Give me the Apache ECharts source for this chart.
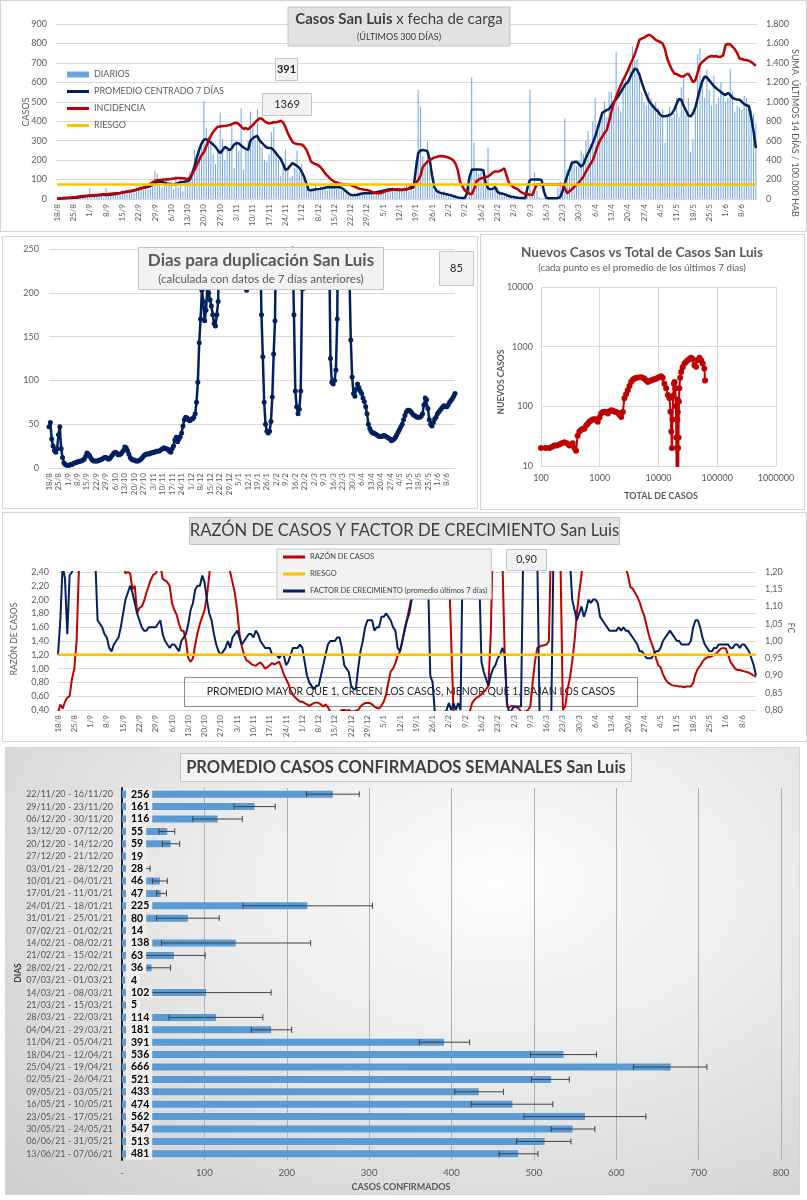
<!DOCTYPE html>
<html><head><meta charset="utf-8">
<script src="https://cdn.jsdelivr.net/npm/echarts@6/dist/echarts.min.js"></script>
<style>
html,body{margin:0;padding:0;background:#fff;width:807px;height:1200px;overflow:hidden;}
.p{position:absolute;outline:1px solid #d4d4d4;outline-offset:-1px;}
#c1{left:0;top:0;width:807px;height:232px;}
#c2{left:2px;top:236px;width:476px;height:273px;}
#c4{left:480px;top:234px;width:325px;height:276px;}
#c3{left:2px;top:512px;width:805px;height:230px;}
#c5{left:5px;top:747px;width:795px;height:448px;background:radial-gradient(ellipse at 62% 30%, #fdfdfd 0%, #ececec 40%, #cdcdcd 100%);}
</style></head><body>
<div id="c1" class="p"></div>
<div id="c2" class="p"></div>
<div id="c4" class="p"></div>
<div id="c3" class="p"></div>
<div id="c5" class="p"></div>
<script>
// ---------------- DATA ----------------
// daily series: 18/8/2020 .. 14/6/2021 (301 days), one row per week
var dailyCases = [
0,5,2,8,3,0,4,
5,10,7,15,12,20,16,
55,10,15,25,20,18,5,
55,20,15,25,30,35,20,
45,40,35,50,40,45,60,
55,65,50,70,60,85,90,
145,130,70,60,85,100,80,
90,50,120,60,110,40,100,
110,140,150,255,200,250,300,
505,365,320,300,230,180,250,
445,310,200,260,240,380,160,
300,245,465,150,250,300,450,
380,300,460,300,270,200,190,
230,345,370,250,200,120,180,
255,150,110,120,160,250,140,
180,110,60,40,50,45,80,
40,70,50,60,45,65,60,
70,50,60,45,40,30,25,
20,15,25,30,20,35,25,
30,40,20,35,30,45,35,
50,45,55,40,60,50,40,
55,45,60,70,40,50,45,
200,560,475,220,180,295,150,
80,40,30,50,25,40,20,
25,15,10,20,5,10,5,
0,5,60,625,290,150,130,
140,120,60,262,40,50,80,
60,40,30,20,30,25,15,
20,10,5,5,10,5,20,
560,20,135,40,10,5,5,
5,0,5,10,5,60,90,
80,415,150,130,200,180,170,
200,250,230,300,350,280,400,
520,350,400,450,500,420,550,
550,500,755,480,450,600,650,
600,700,785,715,720,640,550,
500,480,550,520,480,500,470,
420,460,290,430,475,420,440,
520,420,575,625,430,520,240,
310,480,745,775,600,520,665,
560,480,635,490,520,600,530,
500,520,670,550,450,480,470,
460,530,520,480,460,440,391];

var avg7 = [
2,3,3,4,4,5,5,
6,7,8,10,12,14,15,
16,17,18,19,19,20,20,
21,22,22,24,26,28,30,
33,36,38,40,42,45,48,
52,56,58,60,63,68,74,
82,88,90,88,84,80,78,
76,75,78,82,86,88,90,
92,100,130,170,215,255,285,
305,308,300,290,280,268,250,
236,250,268,262,250,262,280,
288,285,275,265,258,252,300,
312,320,324,300,288,275,265,
262,262,250,235,220,205,180,
150,155,170,185,178,170,160,
140,116,80,46,45,48,50,
50,52,55,58,60,60,62,
60,62,60,58,50,40,30,
22,20,20,22,26,28,30,
30,30,30,32,35,38,40,
42,45,48,50,50,48,46,
46,46,48,50,52,55,60,
150,235,250,252,250,245,200,
120,60,40,34,30,28,25,
22,20,15,12,8,6,5,
5,30,110,150,152,152,152,
150,148,80,55,50,52,62,
38,30,28,25,20,15,12,
10,8,6,5,5,4,60,
98,100,100,100,100,98,40,
6,4,4,4,4,5,10,
40,80,120,150,185,190,192,
180,166,180,210,236,260,290,
320,360,400,442,450,458,462,
480,500,513,530,550,570,590,
600,625,650,670,665,640,600,
565,535,505,490,475,460,450,
432,425,425,428,432,440,460,
490,515,510,480,455,430,425,
440,470,518,565,605,630,625,
610,595,580,570,560,550,540,
535,545,535,520,515,512,510,
500,488,482,478,420,350,262];

var incidence = [
5,6,8,10,12,14,16,
18,20,24,28,30,32,34,
36,38,40,42,44,46,48,
50,52,54,56,58,60,62,
66,70,74,78,82,88,94,
100,108,116,126,140,156,172,
186,192,196,198,200,200,202,
206,210,214,216,216,214,212,
200,225,260,300,350,400,450,
480,540,600,650,690,720,744,
745,750,752,755,760,770,780,
785,770,745,720,730,715,740,
760,790,810,830,825,800,785,
780,782,790,790,795,805,790,
740,680,630,590,572,565,562,
560,540,508,450,384,370,358,
350,330,300,266,240,215,195,
178,170,160,155,150,148,146,
144,135,125,112,104,100,95,
92,85,75,65,60,58,62,
72,80,86,90,95,98,100,
98,95,96,100,110,130,150,
168,190,240,330,360,385,400,
415,425,434,440,442,440,432,
426,415,400,366,300,178,130,
90,70,55,48,100,180,200,
212,218,225,232,250,270,284,
284,286,300,316,240,162,140,
120,110,95,75,60,52,48,
44,42,100,148,150,150,150,
150,150,150,150,150,150,150,
150,110,60,80,100,125,144,
170,200,232,280,320,360,400,
470,540,600,640,680,710,800,
900,984,1050,1110,1170,1224,1270,
1320,1380,1430,1490,1560,1636,1650,
1660,1675,1690,1680,1660,1636,1625,
1615,1600,1540,1440,1380,1330,1290,
1285,1270,1260,1260,1280,1290,1250,
1200,1220,1300,1380,1410,1430,1450,
1464,1470,1465,1470,1460,1464,1480,
1584,1595,1590,1566,1540,1500,1446,
1440,1430,1430,1420,1410,1390,1369];

var riesgoIncidencia = 150;

var diasDuplicacion = [
47,52,33,25,20,18,22,
38,47,22,12,6,4,3,
3,3,4,4,5,6,6,
7,7,8,8,9,10,13,
17,16,14,11,9,8,8,
8,8,9,9,10,11,12,
12,11,10,11,13,15,17,
18,17,15,15,16,18,20,
24,23,20,16,12,10,9,
9,8,8,8,9,10,12,
14,15,16,16,16,17,17,
18,18,19,19,19,20,21,
22,23,22,22,21,19,18,
22,25,32,35,30,33,36,
40,48,55,58,57,55,54,
56,56,58,62,75,98,143,
170,203,190,168,180,205,200,
192,185,175,165,162,175,190,
320,600,800,900,1100,1300,1500,
1800,2000,2500,3000,2500,2000,1500,
1200,900,700,500,400,300,203,
300,500,800,1000,900,700,500,
600,400,260,175,127,75,50,
42,40,42,53,81,130,168,
300,600,1000,1500,2000,1800,1200,
800,600,500,400,300,250,175,
88,70,62,67,88,205,205,
400,900,1200,1500,1300,1000,900,
800,700,600,500,450,400,350,
400,350,300,280,260,125,98,
96,100,112,170,400,900,700,
500,400,350,300,260,220,146,
104,85,82,90,96,92,88,
85,80,76,70,62,50,45,
42,40,40,39,38,37,36,
36,36,37,37,36,35,34,
33,31,32,33,35,38,41,
44,47,50,55,60,64,66,
66,65,63,61,60,59,58,
58,58,59,62,72,80,78,
68,55,50,48,52,56,58,
62,64,66,68,70,71,70,
70,72,75,77,79,82,85];

var razonCasos = [
0.36,0.48,0.42,0.52,0.58,0.60,0.85,
1.00,1.40,2.45,3.00,3.50,3.80,4.00,
4.00,3.80,3.60,3.40,3.20,3.00,2.90,
2.80,2.80,2.70,2.70,2.60,2.60,2.50,
2.50,2.38,2.40,2.38,2.15,2.20,1.80,
1.88,1.90,1.98,2.10,2.20,2.30,2.36,
2.38,2.45,2.50,2.30,2.28,2.25,2.20,
1.95,1.85,1.78,1.65,1.55,1.55,1.40,
1.15,1.10,1.15,1.35,1.52,1.65,1.75,
1.85,2.05,2.35,2.70,2.90,3.00,3.10,
3.10,3.00,2.90,2.60,2.40,2.25,2.10,
1.85,1.50,1.32,1.20,1.12,1.10,1.07,
1.05,1.04,1.07,1.09,1.05,1.00,1.02,
1.05,1.08,1.06,1.08,1.10,1.02,0.92,
0.85,0.78,0.68,0.62,0.58,0.55,0.52,
0.52,0.50,0.48,0.46,0.48,0.50,0.51,
0.50,0.48,0.45,0.48,0.44,0.38,0.35,
0.36,0.35,0.37,0.40,0.40,0.39,0.40,
0.38,0.38,0.39,0.40,0.45,0.48,0.50,
0.50,0.50,0.48,0.45,0.43,0.42,0.46,
0.52,0.62,0.80,0.96,1.00,1.08,1.18,
1.25,1.40,1.58,1.72,1.88,2.05,2.25,
2.60,3.00,3.40,3.80,4.20,4.40,4.50,
4.50,4.40,4.20,4.00,3.60,3.20,2.80,
2.50,1.40,0.35,0.30,0.28,0.25,0.25,
0.25,0.30,0.38,0.50,0.55,0.58,0.60,
0.63,0.66,0.70,0.75,1.50,3.00,4.00,
4.50,4.00,2.60,1.20,0.45,0.44,0.46,
0.45,0.44,0.42,0.38,0.36,0.38,0.40,
0.45,0.80,1.10,1.30,1.32,1.33,1.34,
1.35,1.40,3.00,4.00,4.50,4.00,2.50,
0.40,0.45,0.70,0.86,1.10,1.40,1.80,
2.10,2.35,2.80,3.20,3.50,3.60,3.70,
3.80,3.90,4.00,4.00,3.90,3.80,3.60,
3.40,3.20,3.00,2.90,2.80,2.60,2.45,
2.35,2.18,2.16,2.10,2.04,1.96,1.85,
1.76,1.62,1.48,1.38,1.28,1.15,1.05,
1.02,0.92,0.85,0.80,0.78,0.76,0.75,
0.75,0.74,0.74,0.73,0.74,0.74,0.74,
0.79,0.92,1.00,1.04,1.10,1.14,1.16,
1.17,1.18,1.20,1.22,1.26,1.29,1.30,
1.29,1.20,1.10,1.05,1.00,0.98,0.98,
0.97,0.96,0.95,0.94,0.92,0.90,0.88];

var factorCrecimiento = [
0.96,1.06,1.22,1.18,1.02,1.19,1.20,
1.25,1.30,1.35,1.40,1.40,1.38,1.35,
1.30,1.26,1.24,1.06,1.05,1.04,1.02,
1.01,0.98,0.97,0.99,1.00,1.01,1.04,
1.08,1.12,1.14,1.16,1.14,1.11,1.08,
1.06,1.04,1.03,1.03,1.04,1.04,1.04,
1.04,1.05,1.06,1.02,1.00,0.99,0.98,
0.99,0.99,0.98,0.97,1.00,1.01,1.02,
1.05,1.09,1.11,1.15,1.16,1.16,1.19,
1.17,1.12,1.08,1.06,1.02,0.99,0.97,
0.96,0.97,0.98,1.00,0.98,1.01,1.02,
1.03,1.01,0.99,1.00,1.01,1.02,1.02,
1.01,1.03,1.02,1.00,0.99,0.98,0.98,
0.98,0.96,0.96,0.96,0.95,0.96,0.96,
0.93,0.94,0.96,0.98,0.98,0.98,0.99,
0.98,0.94,0.90,0.88,0.87,0.86,0.87,
0.87,0.90,0.93,0.96,0.99,1.00,1.00,
1.00,1.01,1.01,0.98,0.93,0.92,0.91,
0.87,0.86,0.86,0.92,0.97,1.00,1.04,
1.06,1.06,1.06,1.03,1.04,1.04,1.07,
1.07,1.08,1.07,1.06,1.04,1.03,0.98,
0.97,1.00,1.03,1.06,1.08,1.12,1.15,
1.19,1.24,1.32,1.32,1.28,1.20,0.90,
0.88,0.79,0.77,0.76,0.76,0.77,0.80,
0.82,0.80,0.82,0.80,0.82,0.80,1.28,
1.35,1.40,1.40,1.38,1.35,1.32,1.20,
0.94,0.91,0.89,0.87,0.90,0.92,0.93,
0.95,0.96,0.98,0.96,0.82,0.79,0.80,
0.81,0.81,0.81,0.81,1.28,1.35,1.40,
1.40,1.38,1.32,1.24,0.78,0.76,0.75,
0.75,0.76,0.78,1.28,1.35,1.40,1.42,
1.40,1.36,1.30,1.24,1.12,1.09,1.06,
1.08,1.10,1.07,1.09,1.12,1.11,1.12,
1.12,1.11,1.07,1.06,1.05,1.04,1.03,
1.03,1.03,1.03,1.04,1.03,1.04,1.03,
1.03,1.02,1.01,1.00,0.99,0.97,0.97,
0.96,0.95,0.95,0.95,0.96,0.97,0.97,
0.98,1.00,1.01,1.02,1.03,1.02,1.01,
1.00,1.00,0.99,0.99,0.99,0.99,1.00,
1.04,1.06,1.06,1.04,1.01,0.99,0.98,
0.97,0.97,0.98,0.98,0.99,0.99,0.99,
0.99,0.99,0.98,0.98,0.99,0.99,0.98,
0.99,0.99,0.98,0.97,0.95,0.93,0.90];

var riesgoRazon = 1.2;

var scatterTotal = [100,120,139,155,169,185,205,225,250,275,304,330,346,370,395,420,450,480,515,548,
590,625,665,710,760,810,865,925,990,1055,1130,1200,1290,1370,1460,1560,1670,1780,1900,2030,
2170,2320,2470,2630,2800,3000,3200,3420,3650,3900,4200,4600,5070,5400,5770,6150,6580,7000,7500,8000,
8550,9100,9750,10400,11100,11800,12600,13500,14400,15400,16000,16500,16900,17300,17800,18300,18800,19300,19800,20100,
20300,20500,20700,20900,21100,21300,21500,21700,21900,22300,22600,23400,24300,25800,27700,29500,31500,33700,35900,38300,
40900,43600,46600,49700,53000,56500,60300,62000];
var scatterNew = [20,20,20,21,22,22,23,24,25,24,22,23,24,20,18,32,38,40,42,42,
48,51,55,58,60,61,60,55,65,76,80,81,80,76,82,86,84,82,80,78,
72,66,80,137,160,186,220,256,280,293,300,305,307,300,290,270,256,265,272,280,
284,290,300,310,319,300,240,200,155,136,81,38,20,60,150,240,255,200,100,30,
9,5,20,60,130,80,20,8,30,120,200,300,375,450,520,560,590,630,650,620,
490,460,590,650,590,520,430,272];

var weekLabels = ['22/11/20 - 16/11/20','29/11/20 - 23/11/20','06/12/20 - 30/11/20','13/12/20 - 07/12/20','20/12/20 - 14/12/20',
'27/12/20 - 21/12/20','03/01/21 - 28/12/20','10/01/21 - 04/01/21','17/01/21 - 11/01/21','24/01/21 - 18/01/21',
'31/01/21 - 25/01/21','07/02/21 - 01/02/21','14/02/21 - 08/02/21','21/02/21 - 15/02/21','28/02/21 - 22/02/21',
'07/03/21 - 01/03/21','14/03/21 - 08/03/21','21/03/21 - 15/03/21','28/03/21 - 22/03/21','04/04/21 - 29/03/21',
'11/04/21 - 05/04/21','18/04/21 - 12/04/21','25/04/21 - 19/04/21','02/05/21 - 26/04/21','09/05/21 - 03/05/21',
'16/05/21 - 10/05/21','23/05/21 - 17/05/21','30/05/21 - 24/05/21','06/06/21 - 31/05/21','13/06/21 - 07/06/21'];
var weekValues = [256,161,116,55,59,19,28,46,47,225,80,14,138,63,36,4,102,5,114,181,391,536,666,521,433,474,562,547,513,481];
var weekErrLow = [224,136,86,45,49,null,22,37,42,147,42,null,48,25,13,null,23,null,57,157,361,496,621,497,404,424,488,521,479,458];
var weekErrHigh = [288,186,146,64,70,null,34,55,54,304,118,null,229,101,59,null,181,null,171,206,422,576,710,543,463,523,636,574,545,505];

// ---------------- HELPERS ----------------
var FONT = 'Lato, "Liberation Sans", sans-serif';
var GRAY = '#595959';
var GRID_C = '#d9d9d9';
var dayLabels = dailyCases.map(function (_, i) {
  var d = new Date(2020, 7, 18 + i);
  return d.getDate() + '/' + (d.getMonth() + 1);
});
function thousands(v) { return v >= 1000 ? Math.floor(v / 1000) + '.' + String(v % 1000).padStart(3, '0') : String(v); }
function comma2(v) { return v.toFixed(2).replace('.', ','); }
function box(x, y, w, h, fill, stroke, z) {
  return { type: 'rect', z: z, shape: { x: x, y: y, width: w, height: h },
    style: { fill: fill, stroke: stroke, lineWidth: 1 } };
}
function txt(x, y, text, font, color, z, rot, rich) {
  var o = { type: 'text', z: z, x: x, y: y, rotation: rot || 0,
    style: { text: text, font: font, fill: color, align: 'center', verticalAlign: 'middle' } };
  if (rich) o.style.rich = rich;
  return o;
}
function dayAxis(fs) {
  return { type: 'category', data: dayLabels, boundaryGap: fs.gap,
    axisLine: { lineStyle: { color: GRID_C } }, axisTick: { show: false },
    axisLabel: { interval: 6, rotate: 90, fontSize: 8, color: GRAY, margin: 5, fontFamily: FONT } };
}
var lineIcon = 'path://M0,0H22V3H0Z';

// ---------------- CHART 1 ----------------
var ch1 = echarts.init(document.getElementById('c1'), null, { renderer: 'canvas' });
ch1.setOption({
  animation: false,
  textStyle: { fontFamily: FONT },
  grid: { left: 56, right: 50, top: 24, height: 175, outerBoundsMode: 'none' },
  legend: { orient: 'vertical', left: 62, top: 65, itemWidth: 22, itemHeight: 10, itemGap: 8,
    textStyle: { fontSize: 9, color: GRAY, fontFamily: FONT },
    data: [{ name: 'DIARIOS', icon: 'path://M0,0H22V6H0Z' },
      { name: 'PROMEDIO CENTRADO 7 DÍAS', icon: lineIcon },
      { name: 'INCIDENCIA', icon: lineIcon },
      { name: 'RIESGO', icon: lineIcon }] },
  xAxis: dayAxis({ gap: true }),
  yAxis: [
    { type: 'value', min: 0, max: 900, interval: 100,
      axisLabel: { fontSize: 9, color: GRAY, margin: 9 },
      splitLine: { lineStyle: { color: GRID_C } }, axisLine: { show: false }, axisTick: { show: false } },
    { type: 'value', min: 0, max: 1800, interval: 200,
      axisLabel: { fontSize: 9, color: GRAY, margin: 9, formatter: thousands },
      splitLine: { show: false }, axisLine: { show: false }, axisTick: { show: false } }
  ],
  series: [
    { name: 'DIARIOS', type: 'bar', data: dailyCases, barWidth: 1, itemStyle: { color: '#6FA3DA' } },
    { name: 'PROMEDIO CENTRADO 7 DÍAS', type: 'line', data: avg7, symbol: 'none',
      lineStyle: { color: '#002060', width: 2.5 }, itemStyle: { color: '#002060' } },
    { name: 'INCIDENCIA', type: 'line', yAxisIndex: 1, data: incidence, symbol: 'none',
      lineStyle: { color: '#C00000', width: 2.5 }, itemStyle: { color: '#C00000' } },
    { name: 'RIESGO', type: 'line', yAxisIndex: 1, data: [[0, riesgoIncidencia], [dayLabels.length - 1, riesgoIncidencia]],
      symbol: 'none', lineStyle: { color: '#FFC000', width: 2.5 }, itemStyle: { color: '#FFC000' } }
  ],
  graphic: [
    box(288, 7, 222, 39, '#e2e2e2', '#c4c4c4', 10),
    txt(399, 19, '{b|Casos San Luis} {n|x fecha de carga}', '15px ' + FONT, '#404040', 11, 0,
      { b: { fontWeight: 'bold', fontSize: 15, fontFamily: FONT, fill: '#404040' },
        n: { fontSize: 15, fontFamily: FONT, fill: '#404040' } }),
    txt(399, 37, '(ÚLTIMOS 300 DÍAS)', '9px ' + FONT, '#404040', 11),
    box(275.5, 58.5, 22, 22, '#f2f2f2', '#c4c4c4', 10),
    txt(286.5, 69.5, String(dailyCases[dailyCases.length - 1]), 'bold 11px ' + FONT, '#262626', 11),
    box(262.5, 93.5, 49, 22, '#f2f2f2', '#c4c4c4', 10),
    txt(287, 104.5, String(incidence[incidence.length - 1]), '11px ' + FONT, '#262626', 11),
    txt(26, 112, 'CASOS', '9px ' + FONT, GRAY, 11, Math.PI / 2),
    txt(795, 133, 'SUMA  ÚLTIMOS 14 DÍAS / 100.000 HAB', '9px ' + FONT, GRAY, 11, -Math.PI / 2)
  ]
});

// ---------------- CHART 2 ----------------
var ch2 = echarts.init(document.getElementById('c2'));
ch2.setOption({
  animation: false,
  textStyle: { fontFamily: FONT },
  grid: { left: 47, right: 23, top: 13, height: 219, outerBoundsMode: 'none' },
  xAxis: dayAxis({ gap: false }),
  yAxis: { type: 'value', min: 0, max: 250, interval: 50,
    axisLabel: { fontSize: 9, color: GRAY, margin: 10 },
    splitLine: { lineStyle: { color: GRID_C } }, axisLine: { show: false }, axisTick: { show: false } },
  series: [{ type: 'line', data: diasDuplicacion, symbol: 'circle', symbolSize: 5, showAllSymbol: true, clip: true,
    lineStyle: { color: '#002060', width: 2.5 }, itemStyle: { color: '#002060' } }],
  graphic: [
    box(136.5, 11.5, 245, 42, '#f2f2f2', '#c4c4c4', 20),
    txt(259, 25, 'Dias para duplicación San Luis', 'bold 17px ' + FONT, GRAY, 21),
    txt(259, 43, '(calculada con datos de 7 días anteriores)', '11.5px ' + FONT, GRAY, 21),
    box(437.5, 15.5, 34, 34, '#f2f2f2', '#c4c4c4', 20),
    txt(454.5, 32.5, String(diasDuplicacion[diasDuplicacion.length - 1]), '11px ' + FONT, '#262626', 21)
  ]
});

// ---------------- CHART 4 (scatter log-log) ----------------
var scatterPts = scatterTotal.map(function (t, i) { return [t, scatterNew[i]]; });
var ch4 = echarts.init(document.getElementById('c4'));
ch4.setOption({
  animation: false,
  textStyle: { fontFamily: FONT },
  grid: { left: 61, right: 29, top: 53, height: 179, outerBoundsMode: 'none' },
  xAxis: { type: 'log', logBase: 10, min: 100, max: 1000000,
    axisLabel: { fontSize: 9, color: GRAY, margin: 8, formatter: function (v) { return String(v); } },
    splitLine: { show: true, lineStyle: { color: GRID_C } }, axisLine: { show: false }, axisTick: { show: false },
    minorTick: { show: false } },
  yAxis: { type: 'log', logBase: 10, min: 10, max: 10000,
    axisLabel: { fontSize: 9, color: GRAY, margin: 8, formatter: function (v) { return String(v); } },
    splitLine: { show: true, lineStyle: { color: GRID_C } }, axisLine: { show: false }, axisTick: { show: false } },
  series: [{ type: 'line', data: scatterPts, symbol: 'circle', symbolSize: 6, showAllSymbol: true, clip: true,
    lineStyle: { color: '#C00000', width: 2 }, itemStyle: { color: '#C00000' } }],
  graphic: [
    txt(162, 19, 'Nuevos Casos vs Total de Casos San Luis', 'bold 13.5px ' + FONT, GRAY, 10),
    txt(162, 34, '(cada punto es el promedio de los últimos 7 días)', '9.8px ' + FONT, GRAY, 10),
    txt(21, 148, 'NUEVOS CASOS', 'bold 8.5px ' + FONT, GRAY, 10, Math.PI / 2),
    txt(181, 262, 'TOTAL DE CASOS', 'bold 9px ' + FONT, GRAY, 10)
  ]
});

// ---------------- CHART 3 ----------------
var ch3 = echarts.init(document.getElementById('c3'));
var fcName = 'FACTOR DE CRECIMIENTO (promedio últimos 7 días)';
ch3.setOption({
  animation: false,
  textStyle: { fontFamily: FONT },
  grid: { left: 56, right: 51, top: 60, height: 138, outerBoundsMode: 'none' },
  legend: { orient: 'vertical', left: 275, top: 37, itemWidth: 22, itemHeight: 8, itemGap: 9,
    padding: [4, 4, 4, 6], backgroundColor: '#f2f2f2', borderColor: '#c4c4c4', borderWidth: 1,
    textStyle: { fontSize: 7.5, color: '#404040', fontFamily: FONT },
    data: [{ name: 'RAZÓN DE CASOS', icon: lineIcon }, { name: 'RIESGO', icon: lineIcon }, { name: fcName, icon: lineIcon }] },
  xAxis: dayAxis({ gap: false }),
  yAxis: [
    { type: 'value', min: 0.4, max: 2.4, interval: 0.2,
      axisLabel: { fontSize: 9, color: GRAY, margin: 9, formatter: comma2 },
      splitLine: { lineStyle: { color: GRID_C } }, axisLine: { show: false }, axisTick: { show: false } },
    { type: 'value', min: 0.8, max: 1.2, interval: 0.05,
      axisLabel: { fontSize: 9, color: GRAY, margin: 9, formatter: comma2 },
      splitLine: { show: false }, axisLine: { show: false }, axisTick: { show: false } }
  ],
  series: [
    { name: 'RAZÓN DE CASOS', type: 'line', data: razonCasos, symbol: 'none', clip: true,
      lineStyle: { color: '#C00000', width: 2 }, itemStyle: { color: '#C00000' } },
    { name: fcName, type: 'line', yAxisIndex: 1, data: factorCrecimiento, symbol: 'none', clip: true,
      lineStyle: { color: '#002060', width: 2 }, itemStyle: { color: '#002060' } },
    { name: 'RIESGO', type: 'line', data: [[0, riesgoRazon], [dayLabels.length - 1, riesgoRazon]], symbol: 'none',
      lineStyle: { color: '#FFC000', width: 2.5 }, itemStyle: { color: '#FFC000' } }
  ],
  graphic: [
    box(187.5, 5.5, 430, 27, '#e2e2e2', '#c4c4c4', 10),
    txt(402.5, 19, 'RAZÓN DE CASOS Y FACTOR DE CRECIMIENTO San Luis', '16.6px ' + FONT, '#404040', 11),
    box(504.5, 37.5, 40, 21, '#f2f2f2', '#c4c4c4', 10),
    txt(524.5, 48, comma2(factorCrecimiento[factorCrecimiento.length - 1]), '10.5px ' + FONT, '#262626', 11),
    box(182.5, 165.5, 453, 29, 'rgba(0,0,0,0)', '#8c8c8c', 1),
    txt(409, 180, 'PROMEDIO MAYOR QUE 1, CRECEN LOS CASOS, MENOR QUE 1, BAJAN LOS CASOS', '10.5px ' + FONT, '#262626', 1),
    txt(12, 127, 'RAZÓN DE CASOS', '8.5px ' + FONT, GRAY, 11, Math.PI / 2),
    txt(789, 116, 'FC', '8.5px ' + FONT, GRAY, 11, -Math.PI / 2)
  ]
});

// ---------------- CHART 5 ----------------
var errData = [];
weekValues.forEach(function (v, i) {
  if (weekErrLow[i] != null) errData.push([i, weekErrLow[i], weekErrHigh[i]]);
});
var ch5 = echarts.init(document.getElementById('c5'));
ch5.setOption({
  animation: false,
  textStyle: { fontFamily: FONT },
  grid: { left: 117, right: 19, top: 41, height: 372, outerBoundsMode: 'none' },
  xAxis: { type: 'value', min: 0, max: 800, interval: 100,
    axisLabel: { fontSize: 9.5, color: GRAY, margin: 8, formatter: function (v) { return v === 0 ? '-' : String(v); } },
    splitLine: { lineStyle: { color: '#b0b0b0' } }, axisLine: { show: false }, axisTick: { show: false } },
  yAxis: { type: 'category', data: weekLabels, inverse: true,
    axisLine: { show: true, lineStyle: { color: '#262626', width: 2 } }, axisTick: { show: false },
    axisLabel: { interval: 0, fontSize: 9, color: GRAY, margin: 9 } },
  series: [
    { type: 'bar', data: weekValues, barWidth: 7, z: 2, itemStyle: { color: '#5B9BD5' } },
    { type: 'custom', data: errData, encode: { x: [1, 2], y: 0 }, z: 3,
      renderItem: function (params, api) {
        var c = api.value(0);
        var lo = api.coord([api.value(1), c]);
        var hi = api.coord([api.value(2), c]);
        var s = { stroke: '#404040', lineWidth: 1 };
        return { type: 'group', children: [
          { type: 'line', shape: { x1: lo[0], y1: lo[1], x2: hi[0], y2: hi[1] }, style: s },
          { type: 'line', shape: { x1: lo[0], y1: lo[1] - 3, x2: lo[0], y2: lo[1] + 3 }, style: s },
          { type: 'line', shape: { x1: hi[0], y1: hi[1] - 3, x2: hi[0], y2: hi[1] + 3 }, style: s }
        ] };
      } },
    { type: 'bar', data: weekValues, barWidth: 7, barGap: '-100%', z: 4, silent: true,
      itemStyle: { color: 'rgba(0,0,0,0)' },
      label: { show: true, position: 'insideLeft', distance: 4, color: '#000', fontWeight: 'bold', fontSize: 10.5,
        backgroundColor: '#efefef', padding: [1, 3, 0, 5], fontFamily: FONT } }
  ],
  graphic: [
    box(175.5, 6.5, 451, 28, '#f4f4f4', '#c4c4c4', 10),
    txt(401, 20.5, 'PROMEDIO CASOS CONFIRMADOS SEMANALES San Luis', 'bold 16.5px ' + FONT, '#404040', 11),
    txt(13, 226, 'DIAS', 'bold 8.5px ' + FONT, '#404040', 11, Math.PI / 2),
    txt(396, 440, 'CASOS CONFIRMADOS', 'bold 9px ' + FONT, GRAY, 11)
  ]
});
</script>
</body></html>
